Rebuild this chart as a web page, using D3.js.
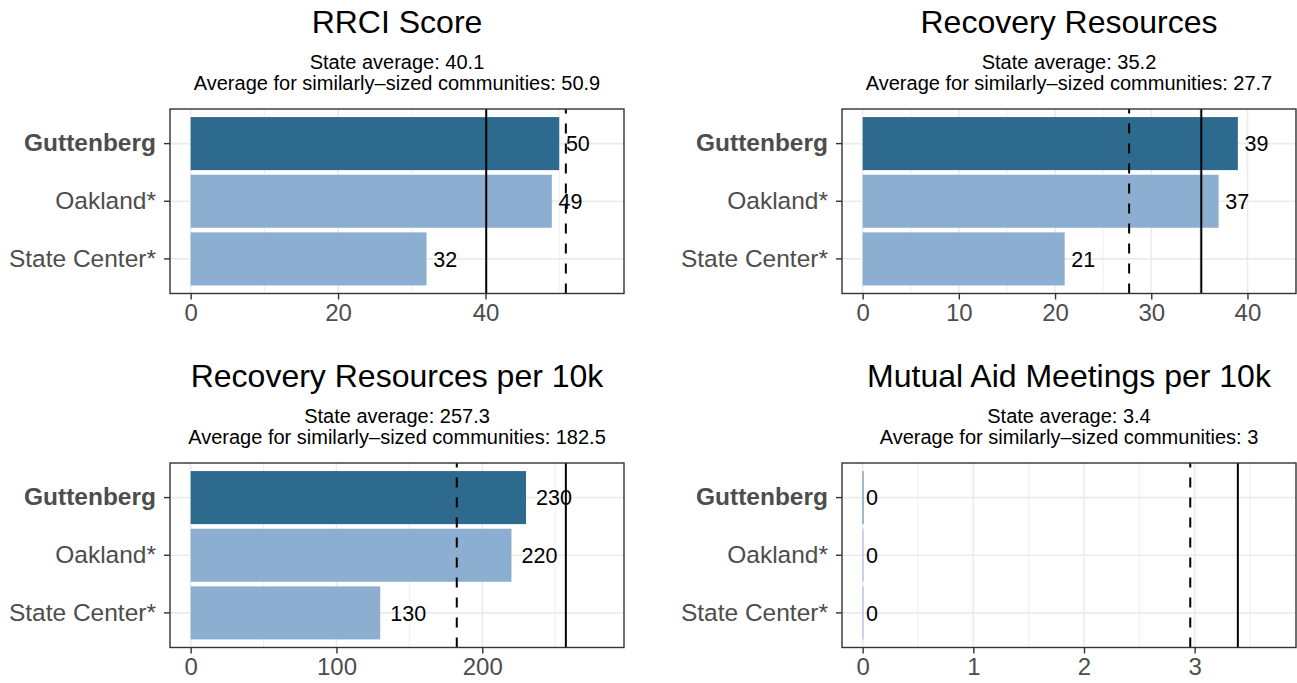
<!DOCTYPE html>
<html>
<head>
<meta charset="utf-8">
<script src="https://cdn.jsdelivr.net/npm/d3@7"></script>
<style>
  html, body { margin: 0; padding: 0; background: #ffffff; }
  svg { display: block; font-family: "Liberation Sans", Arial, Helvetica, sans-serif; }
</style>
</head>
<body>
<svg id="chart" width="1297" height="683"></svg>
<script>
// ---- data ----
const categories = ["Guttenberg", "Oakland*", "State Center*"];
const highlightCategory = "Guttenberg";
const panelTitles = ["RRCI Score", "Recovery Resources", "Recovery Resources per 10k", "Mutual Aid Meetings per 10k"];
const rrciValues = [50, 49, 32];
const resourcesValues = [39, 37, 21];
const resourcesPer10kValues = [230, 220, 130];
const meetingsPer10kValues = [0, 0, 0];
const stateAverages = [40.1, 35.2, 257.3, 3.39];
const similarAverages = [50.9, 27.7, 182.5, 2.96];
const stateAverageLabels = ["40.1", "35.2", "257.3", "3.4"];
const similarAverageLabels = ["50.9", "27.7", "182.5", "3"];
const xTickValues = [[0, 20, 40], [0, 10, 20, 30, 40], [0, 100, 200], [0, 1, 2, 3]];

const seriesValues = [rrciValues, resourcesValues, resourcesPer10kValues, meetingsPer10kValues];

// ---- layout ----
const colLeft = [170, 842];
const panelW = 454;
const rowTop = [109, 463];
const panelH = 184.5;
const darkColor = "#2E6A8E";
const lightColor = "#8CAED1";

const svg = d3.select("#chart");

panelTitles.forEach((title, i) => {
  const x0 = colLeft[i % 2];
  const y0 = rowTop[Math.floor(i / 2)];
  const values = seriesValues[i];
  const L = 1.1 * Math.max(d3.max(values), stateAverages[i], similarAverages[i]);
  const x = d3.scaleLinear().domain([-0.05 * L, 1.05 * L]).range([x0, x0 + panelW]);
  const y = d3.scaleBand().domain(categories).range([y0, y0 + panelH])
    .paddingInner(0.08).paddingOuter(0.14);

  const g = svg.append("g");

  // titles
  const cx = x0 + panelW / 2;
  g.append("text").attr("x", cx).attr("y", y0 - 76).attr("text-anchor", "middle")
    .attr("font-size", 32).attr("fill", "#000").text(title);
  g.append("text").attr("x", cx).attr("y", y0 - 40).attr("text-anchor", "middle")
    .attr("font-size", 20).attr("fill", "#000").text("State average: " + stateAverageLabels[i]);
  g.append("text").attr("x", cx).attr("y", y0 - 19).attr("text-anchor", "middle")
    .attr("font-size", 20).attr("fill", "#000")
    .text("Average for similarly\u2013sized communities: " + similarAverageLabels[i]);

  // grid
  const majors = xTickValues[i];
  const stepT = majors[1] - majors[0];
  const minors = d3.range(majors[0] - stepT / 2, 1.05 * L + stepT, stepT)
    .filter(v => v >= -0.05 * L && v <= 1.05 * L);
  g.selectAll(".minor").data(minors).enter().append("line")
    .attr("x1", d => x(d)).attr("x2", d => x(d))
    .attr("y1", y0).attr("y2", y0 + panelH)
    .attr("stroke", "#ebebeb").attr("stroke-width", 0.8);
  g.selectAll(".majorx").data(majors).enter().append("line")
    .attr("x1", d => x(d)).attr("x2", d => x(d))
    .attr("y1", y0).attr("y2", y0 + panelH)
    .attr("stroke", "#ebebeb").attr("stroke-width", 1.6);
  g.selectAll(".majory").data(categories).enter().append("line")
    .attr("x1", x0).attr("x2", x0 + panelW)
    .attr("y1", d => y(d) + y.bandwidth() / 2).attr("y2", d => y(d) + y.bandwidth() / 2)
    .attr("stroke", "#ebebeb").attr("stroke-width", 1.6);

  // bars
  g.selectAll(".bar").data(categories).enter().append("rect")
    .attr("x", x(0))
    .attr("y", d => y(d))
    .attr("width", (d, j) => Math.max(0.8, x(values[j]) - x(0)))
    .attr("height", y.bandwidth())
    .attr("fill", d => d === highlightCategory ? darkColor : lightColor);

  // reference lines (drawn bottom to top)
  g.append("line").attr("x1", x(stateAverages[i])).attr("x2", x(stateAverages[i]))
    .attr("y1", y0 + panelH).attr("y2", y0)
    .attr("stroke", "#000").attr("stroke-width", 2);
  g.append("line").attr("x1", x(similarAverages[i])).attr("x2", x(similarAverages[i]))
    .attr("y1", y0 + panelH).attr("y2", y0)
    .attr("stroke", "#000").attr("stroke-width", 2).attr("stroke-dasharray", "10,10");

  // value labels
  g.selectAll(".val").data(categories).enter().append("text")
    .attr("y", d => y(d) + y.bandwidth() / 2)
    .attr("dy", "0.36em")
    .attr("font-size", 21.5).attr("fill", "#000")
    .text((d, j) => d3.format(".0f")(values[j]))
    .each(function (d, j) {
      const w = this.getComputedTextLength();
      d3.select(this).attr("x", x(values[j]) + 0.28 * w);
    });

  // panel border
  g.append("rect").attr("x", x0).attr("y", y0).attr("width", panelW).attr("height", panelH)
    .attr("fill", "none").attr("stroke", "#333333").attr("stroke-width", 1.4);

  // x axis
  const xa = g.append("g").attr("transform", `translate(0,${y0 + panelH})`)
    .call(d3.axisBottom(x).tickValues(majors).tickSize(6).tickPadding(4).tickFormat(d3.format("d")));
  xa.select(".domain").remove();
  xa.selectAll(".tick line").attr("stroke", "#333333").attr("stroke-width", 1.4);
  xa.selectAll(".tick text").attr("fill", "#4d4d4d").attr("font-size", 24)
    .attr("font-family", "Liberation Sans, Arial, sans-serif");

  // y axis
  const ya = g.append("g").attr("transform", `translate(${x0},0)`)
    .call(d3.axisLeft(y).tickSize(6).tickPadding(8));
  ya.select(".domain").remove();
  ya.selectAll(".tick line").attr("stroke", "#333333").attr("stroke-width", 1.4);
  ya.selectAll(".tick text").attr("fill", "#4d4d4d").attr("font-size", 24.5)
    .attr("font-family", "Liberation Sans, Arial, sans-serif")
    .attr("font-weight", d => d === highlightCategory ? "bold" : "normal");
});
</script>
</body>
</html>
